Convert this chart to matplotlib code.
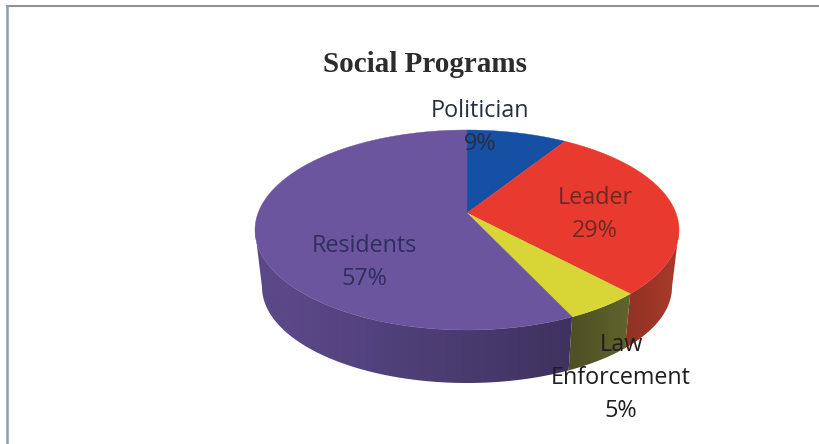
import numpy as np
import matplotlib
matplotlib.use("Agg")
import matplotlib.pyplot as plt
from matplotlib.colors import to_rgb
from matplotlib.patches import Polygon

categories = ["Politician", "Leader", "Law\nEnforcement", "Residents"]
shares = [9, 29, 5, 57]
top_colors = ["#1650a4", "#e93a30", "#d8d636", "#6b559e"]
rim_colors = ["#123f80", "#a83a2a", "#6f7434", "#5a4888"]
label_colors = ["#262f40", "#6e2a22", "#1e1e1e", "#2f2f5e"]
label_pos = [(480, 127), (595, 214), (621, 378), (364, 262)]

# pie ellipse in pixels
cx, cy, rx, ry = 467, 230, 212, 100
bottom_cx, bottom_cy, bottom_rx, bottom_ry = 467, 287, 205, 96
tilt = 0.17  # centre of the disc sits above the ellipse centre


def project(theta):
    # clockwise from 12 o'clock, perspective view of a flat disc
    u = np.sin(theta)
    v = -np.cos(theta)
    d = 1 - tilt * v
    return u * np.sqrt(1 - tilt ** 2) / d, (v - tilt) / d


def top_xy(theta):
    u, v = project(theta)
    return cx + rx * u, cy + ry * v


def bottom_xy(theta):
    u, v = project(theta)
    return bottom_cx + bottom_rx * u, bottom_cy + bottom_ry * v


fig = plt.figure(figsize=(8.2, 4.44), dpi=100)
ax = fig.add_axes([0, 0, 1, 1])
ax.set_xlim(0, 820)
ax.set_ylim(444, 0)
ax.axis("off")

# frame around the chart
ax.plot([820, 7.5], [6, 6], color="#8f9498", lw=1.5, zorder=1)
ax.plot([7.5, 7.5], [6, 444], color="#8aa0aa", lw=1.8, zorder=1)

edges = np.cumsum([0] + shares) / sum(shares) * 2 * np.pi

# angles where the wall is visible, between the widest points of the ellipse
front_start = np.arccos(-tilt)
front_end = 2 * np.pi - front_start

# side wall: horizontal gradient clipped to each slice's outline
gx = np.linspace(250, 685, 436)
shade = 1 - 0.3 * np.clip((gx - 290) / 280, 0, 1)
shade[gx > 575] = np.clip(0.7 + (gx[gx > 575] - 575) / 100 * 0.3, 0, 1)
for i in range(len(shares)):
    a = max(edges[i], front_start)
    b = min(edges[i + 1], front_end)
    if b <= a:
        continue
    t = np.linspace(a, b, 300)
    x0, y0 = top_xy(t)
    x1, y1 = bottom_xy(t)
    grad = np.array(to_rgb(rim_colors[i]))[None, None, :] * shade[None, :, None]
    im = ax.imshow(grad, extent=(250, 685, 390, 120), aspect="auto",
                   interpolation="bilinear", zorder=2)
    outline = np.c_[np.r_[x0, x1[::-1]], np.r_[y0, y1[::-1]]]
    patch = Polygon(outline, closed=True, transform=ax.transData, fc="none", ec="none")
    ax.add_patch(patch)
    im.set_clip_path(patch)
ax.set_xlim(0, 820)
ax.set_ylim(444, 0)

# top of the pie
apex = (cx, cy - ry * tilt)
for i in range(len(shares)):
    t = np.linspace(edges[i], edges[i + 1], 200)
    x, y = top_xy(t)
    ax.fill(np.r_[apex[0], x], np.r_[apex[1], y], color=top_colors[i], lw=0.3,
            ec=top_colors[i], zorder=3)

for name, val, pos, col in zip(categories, shares, label_pos, label_colors):
    ax.text(pos[0], pos[1], f"{name}\n{val}%", ha="center", va="center",
            family="Open Sans", fontsize=16.8, color=col, linespacing=1.5,
            zorder=4)

ax.text(425, 64, "Social Programs", ha="center", va="center",
        family="Liberation Serif", fontweight="bold", fontsize=21,
        color="#2c2c2c", zorder=4)

fig.savefig("out.png", dpi=100)
